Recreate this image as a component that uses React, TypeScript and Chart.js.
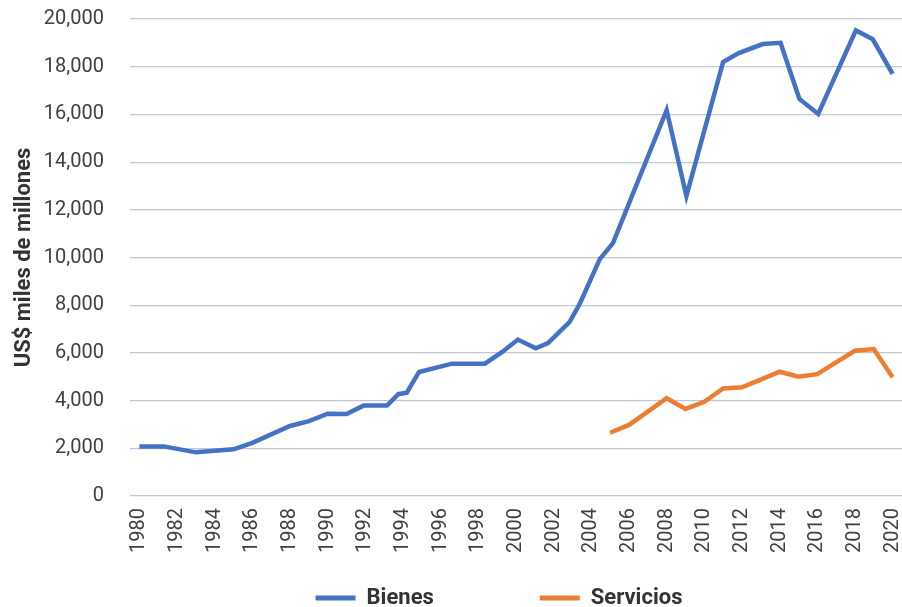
import React, { useEffect, useRef } from 'react';
import { Chart, registerables } from 'chart.js';

Chart.register(...registerables);

// ---- Data ----
const seriesNames = ['Bienes', 'Servicios'];
const yAxisTitle = 'US$ miles de millones';

const bienesYears = [
  1980, 1981.3, 1983, 1985, 1986, 1988, 1989, 1990, 1991, 1991.9, 1993.15,
  1993.75, 1994.2, 1994.85, 1996.6, 1998.35, 1999.25, 2000.1, 2001.05, 2001.7,
  2002.85, 2003.4, 2004.45, 2005.15, 2008, 2009.05, 2011, 2011.8, 2013.1,
  2014.05, 2015.05, 2016.05, 2018.05, 2018.95, 2020,
];
const bienesValues = [
  2080, 2080, 1830, 1960, 2230, 2935, 3140, 3450, 3440, 3790, 3790,
  4270, 4330, 5200, 5550, 5550, 6030, 6560, 6190, 6410,
  7300, 8080, 9930, 10600, 16180, 12580, 18200, 18560, 18950,
  19000, 16650, 16020, 19520, 19150, 17700,
];

const serviciosYears = [
  2005, 2006, 2007, 2008, 2009, 2010, 2011, 2012, 2013, 2014, 2015, 2016,
  2017, 2018, 2019, 2020,
];
const serviciosValues = [
  2650, 2980, 3540, 4100, 3650, 3950, 4510, 4560, 4880, 5210, 5000, 5110,
  5600, 6090, 6160, 4980,
];

const xTickYears = [
  1980, 1982, 1984, 1986, 1988, 1990, 1992, 1994, 1996, 1998, 2000, 2002,
  2004, 2006, 2008, 2010, 2012, 2014, 2016, 2018, 2020,
];
const yTickValues = [0, 2000, 4000, 6000, 8000, 10000, 12000, 14000, 16000, 18000, 20000];

const seriesColors = ['#4472C4', '#ED7D31'];

// Place the legend row (horizontal centre and vertical position)
const legendPlacement = {
  id: 'legendPlacement',
  afterLayout(chart: any) {
    const lg = chart.legend;
    if (!lg) return;
    const pad = lg.options.labels.padding;
    const fontSize = lg.options.labels.font.size;
    const textCenterY = 598;
    const centerX = 499;
    const half = 420;
    lg.left = centerX - half;
    lg.right = centerX + half;
    lg.width = lg.right - lg.left;
    lg.top = textCenterY - pad - fontSize / 2;
    lg.bottom = chart.height;
    lg.height = lg.bottom - lg.top;
  },
};

export default function App() {
  const canvasRef = useRef<HTMLCanvasElement | null>(null);

  useEffect(() => {
    const canvas = canvasRef.current;
    if (!canvas) return;

    const toPoints = (xs: number[], ys: number[]) => xs.map((x, i) => ({ x, y: ys[i] }));

    const chart = new Chart(canvas, {
      type: 'line',
      data: {
        datasets: [
          {
            label: seriesNames[0],
            data: toPoints(bienesYears, bienesValues),
            borderColor: seriesColors[0],
            backgroundColor: seriesColors[0],
            borderWidth: 4.5,
            pointRadius: 0,
            tension: 0,
            fill: false,
          },
          {
            label: seriesNames[1],
            data: toPoints(serviciosYears, serviciosValues),
            borderColor: seriesColors[1],
            backgroundColor: seriesColors[1],
            borderWidth: 4.5,
            pointRadius: 0,
            tension: 0,
            fill: false,
          },
        ],
      },
      options: {
        responsive: false,
        animation: false,
        devicePixelRatio: 1,
        layout: { padding: { left: 0, right: 0, top: 19, bottom: 0 } },
        plugins: {
          tooltip: { enabled: false },
          legend: {
            display: true,
            position: 'bottom',
            maxHeight: 54,
            labels: {
              boxWidth: 40,
              boxHeight: 5,
              padding: 106,
              color: '#333333',
              font: { family: 'Roboto', size: 22, weight: 'bold' },
              generateLabels: (ch: any) =>
                Chart.defaults.plugins.legend.labels
                  .generateLabels(ch)
                  .map((l: any) => ({ ...l, fillStyle: l.strokeStyle, lineWidth: 0 })),
            },
          },
        },
        scales: {
          x: {
            type: 'linear',
            min: 1979.5,
            max: 2020.5,
            grid: { display: false, drawTicks: false },
            border: { display: false },
            afterBuildTicks: (s: any) => {
              s.ticks = xTickYears.map((v) => ({ value: v }));
            },
            afterFit: (s: any) => {
              s.height = 57;
              s.paddingLeft = 0;
              s.paddingRight = 0;
              s.paddingTop = 0;
              s.paddingBottom = 0;
            },
            ticks: {
              autoSkip: false,
              minRotation: 90,
              maxRotation: 90,
              padding: 12,
              color: '#404040',
              font: { family: 'Roboto', size: 20 },
              callback: (v: any) => String(v),
            },
          },
          y: {
            type: 'linear',
            min: 0,
            max: 20000,
            afterBuildTicks: (s: any) => {
              s.ticks = yTickValues.map((v) => ({ value: v }));
            },
            afterFit: (s: any) => {
              s.width = 130;
              s.paddingTop = 0;
              s.paddingBottom = 0;
              s.paddingLeft = 0;
              s.paddingRight = 0;
            },
            grid: { color: '#c2c6ce', lineWidth: 1.2, drawTicks: false },
            border: { display: false },
            ticks: {
              padding: 26,
              color: '#404040',
              font: { family: 'Roboto', size: 20 },
              callback: (v: any) => Number(v).toLocaleString('en-US'),
            },
            title: {
              display: true,
              text: yAxisTitle,
              color: '#333333',
              font: { family: 'Roboto', size: 22, weight: 'bold' },
              padding: { top: 11, bottom: 0 },
            },
          },
        },
      },
      plugins: [legendPlacement],
    });

    return () => chart.destroy();
  }, []);

  return (
    <div style={{ position: 'fixed', left: 0, top: 0, width: 902, height: 607, background: '#ffffff' }}>
      <canvas ref={canvasRef} width={902} height={607} style={{ display: 'block' }} />
    </div>
  );
}
